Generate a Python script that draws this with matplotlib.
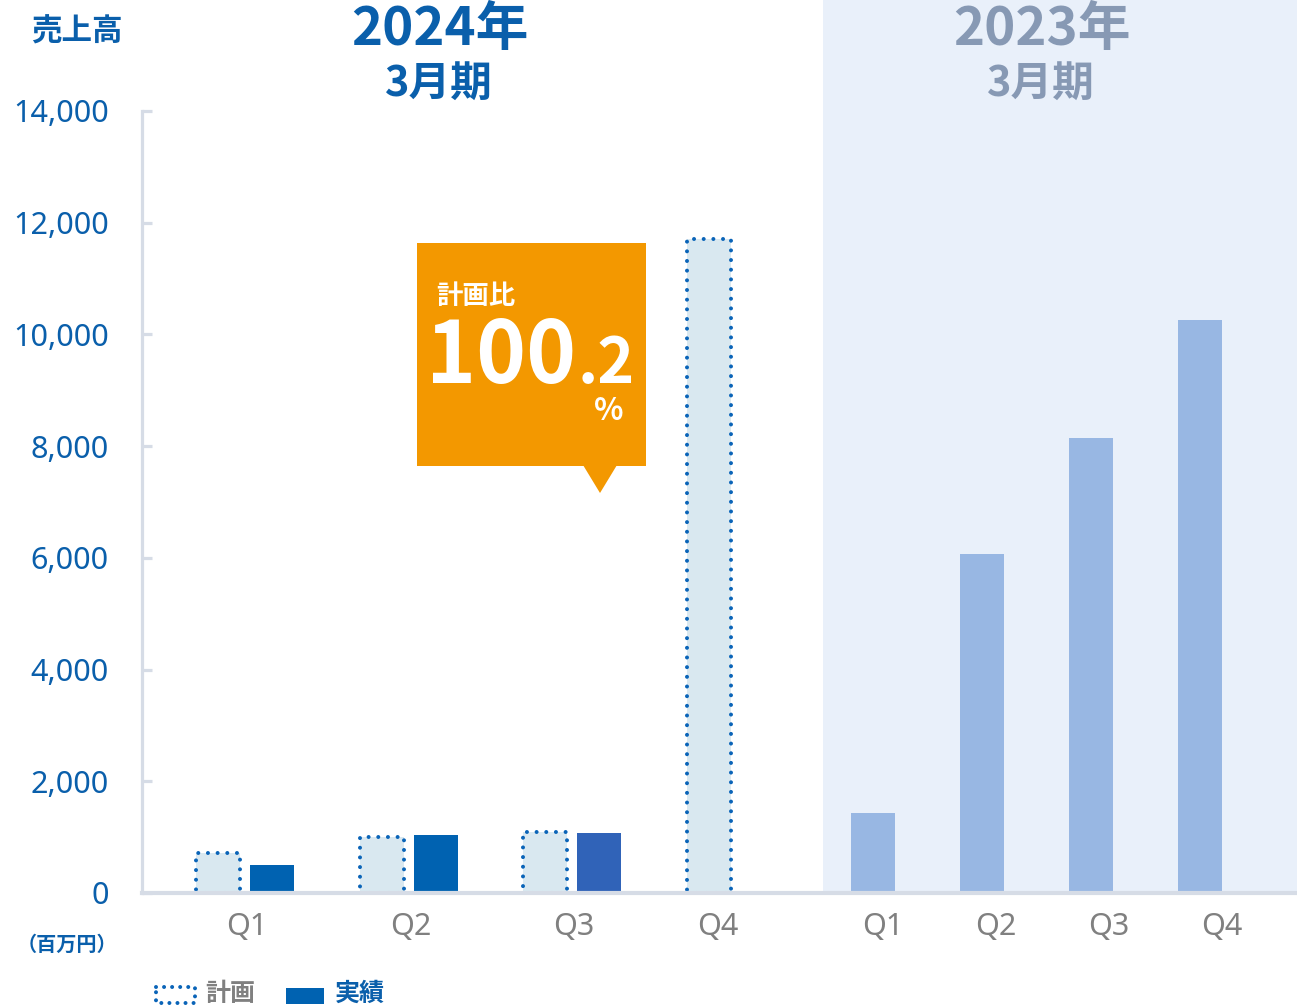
import matplotlib
matplotlib.use("Agg")
import matplotlib.pyplot as plt
from matplotlib.patches import Rectangle, Polygon
import numpy as np

plt.rcParams['font.family'] = ['Noto Sans CJK JP', 'DejaVu Sans']

# ---------------- data ----------------
quarters = ["Q1", "Q2", "Q3", "Q4"]
plan_2024 = [720, 1000, 1090, 11700]
actual_2024 = [500, 1040, 1075]          # Q4 not yet available
actual_2023 = [1430, 6070, 8150, 10260]
yticks = [0, 2000, 4000, 6000, 8000, 10000, 12000, 14000]
ratio_label = "計画比"
ratio_int = "100"
ratio_dec = ".2"
title_2024 = ["2024年", "3月期"]
title_2023 = ["2023年", "3月期"]

# ---------------- style ----------------
W, H = 1297, 1008
BLUE = "#0a5fab"
PLAN_FILL = "#d9e8f0"
PLAN_EDGE = "#0a64b8"
ACT_COLORS = ["#0062b1", "#0062b1", "#3063b8"]
PREV_COLOR = "#98b7e3"
SHADE = "#e9f0fa"
AXIS_C = "#d6dce6"
GRAY = "#808080"
ORANGE = "#f39800"
TITLE23 = "#8799b4"

fig = plt.figure(figsize=(W / 100, H / 100), dpi=100)

ax_left, ax_right, ax_top, ax_bot = 142, 1297, 111, 893

def fig_rect(l, r, t, b):
    return [l / W, 1 - b / H, (r - l) / W, (b - t) / H]

# background layer (shading of previous year)
bg = fig.add_axes([0, 0, 1, 1], zorder=0)
bg.set_xlim(0, W); bg.set_ylim(H, 0); bg.axis("off")
bg.add_patch(Rectangle((823, 0), W - 823, ax_bot, facecolor=SHADE, edgecolor="none"))

# main axes, x in pixel-like units
ax = fig.add_axes(fig_rect(ax_left, ax_right, ax_top, ax_bot), zorder=1)
ax.set_facecolor("none")
ax.set_xlim(ax_left, ax_right)
ax.set_ylim(0, 14000)

bw = 44
idx = np.arange(len(quarters))
g24 = 245 + 163.5 * idx
plan_x = g24 - 27
act_x = g24[:len(actual_2024)] + 27
x23 = 872.5 + 109 * idx

ax.bar(plan_x, plan_2024, width=bw, color=PLAN_FILL, edgecolor=PLAN_EDGE,
       linewidth=2.9, linestyle=(0, (0.001, 2.4)), capstyle="round", zorder=2)
ax.bar(act_x, actual_2024, width=bw, color=ACT_COLORS, edgecolor="none", zorder=2)
ax.bar(x23, actual_2023, width=bw, color=PREV_COLOR, edgecolor="none", zorder=2)

# axes styling
for s in ["top", "right"]:
    ax.spines[s].set_visible(False)
ax.spines["left"].set_color(AXIS_C)
ax.spines["left"].set_linewidth(2.3)
ax.spines["bottom"].set_color(AXIS_C)
ax.spines["bottom"].set_linewidth(3)
ax.spines["bottom"].set_zorder(5)

ax.set_yticks(yticks)
ax.set_yticklabels([f"{v:,}" for v in yticks], fontsize=22, color=BLUE,
                   family=["Noto Sans", "DejaVu Sans"])
ax.tick_params(axis="y", direction="in", length=7.2, width=2.3, color=AXIS_C, pad=24)

tick_pos = list(np.r_[g24[:3] + 2, plan_x[3] + 9]) + list(x23 + 10 + 4 * idx)
ax.set_xticks(tick_pos)
ax.set_xticklabels(quarters + quarters, fontsize=22, color=GRAY,
                   family=["Noto Sans", "DejaVu Sans"])
ax.tick_params(axis="x", length=0, pad=14)

# overlay for texts
ov = fig.add_axes([0, 0, 1, 1], zorder=3)
ov.set_xlim(0, W); ov.set_ylim(H, 0); ov.axis("off")

ov.text(77, 32, "売上高", fontsize=22, fontweight="bold", color=BLUE, ha="center", va="center")
ov.text(67, 944, "（百万円）", fontsize=14.5, fontweight="bold", color=BLUE, ha="center", va="center")

ov.text(440, 29, title_2024[0], fontsize=38, fontweight="bold", color=BLUE, ha="center", va="center")
ov.text(439, 84, title_2024[1], fontsize=30, fontweight="bold", color=BLUE, ha="center", va="center")
ov.text(1042, 29, title_2023[0], fontsize=38, fontweight="bold", color=TITLE23, ha="center", va="center")
ov.text(1041, 84, title_2023[1], fontsize=30, fontweight="bold", color=TITLE23, ha="center", va="center")

# callout
ov.add_patch(Rectangle((417, 243), 646 - 417, 466 - 243, facecolor=ORANGE, edgecolor="none"))
ov.add_patch(Polygon([[583, 465], [617, 465], [600, 493]], closed=True, facecolor=ORANGE, edgecolor="none"))
ov.text(476, 296, ratio_label, fontsize=19, fontweight="bold", color="white", ha="center", va="center")
ov.text(426, 383, ratio_int, fontsize=61, fontweight="bold", color="white", ha="left", va="baseline")
ov.text(578, 383, ratio_dec, fontsize=45, fontweight="bold", color="white", ha="left", va="baseline")
ov.text(609, 411, "%", fontsize=22, fontweight="bold", color="white", ha="center", va="center")

# legend
ov.add_patch(Rectangle((156, 987), 39, 16, facecolor="none", edgecolor=PLAN_EDGE,
                       linewidth=2.9, linestyle=(0, (0.001, 2.0)), capstyle="round"))
ov.text(230, 994, "計画", fontsize=18, fontweight="bold", color=GRAY, ha="center", va="center")
ov.add_patch(Rectangle((286, 988), 38, 16, facecolor=ACT_COLORS[0], edgecolor="none"))
ov.text(360, 994, "実績", fontsize=18, fontweight="bold", color=BLUE, ha="center", va="center")

fig.savefig("out.png", dpi=100)
